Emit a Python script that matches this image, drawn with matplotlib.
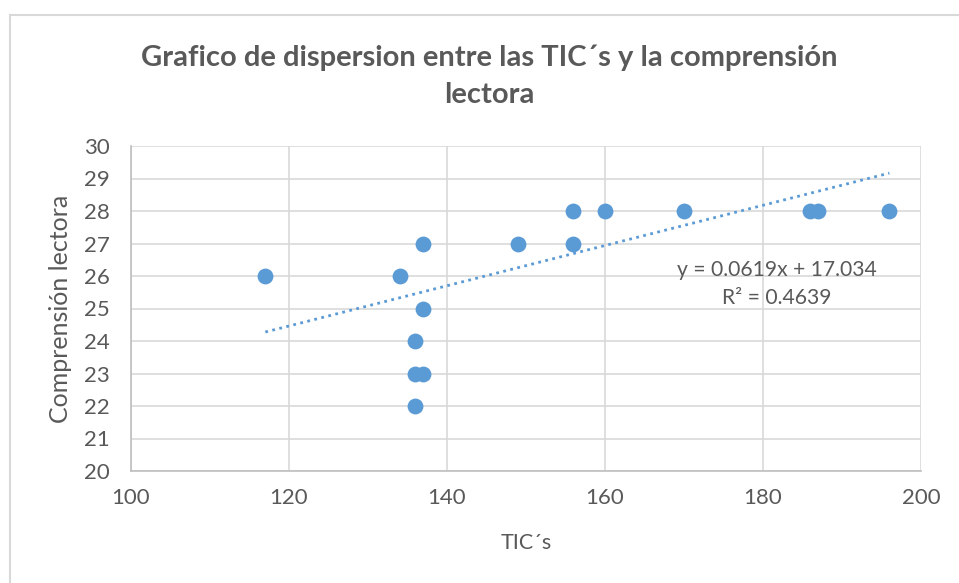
import matplotlib.pyplot as plt
from matplotlib.lines import Line2D

# datos
tics = [117, 134, 137, 137, 136, 136, 137, 136, 149, 156, 156, 160, 170, 186, 187, 196]
comprension = [26, 26, 27, 25, 24, 23, 23, 22, 27, 28, 27, 28, 28, 28, 28, 28]
pendiente = 0.0619
intercepto = 17.034
r2 = 0.4639
x_ticks = [100, 120, 140, 160, 180, 200]
y_ticks = list(range(20, 31))

azul = '#5B9BD5'
gris_txt = '#595959'
gris_grid = '#D9D9D9'

plt.rcParams['font.family'] = ['Lato', 'DejaVu Sans']

fig = plt.figure(figsize=(9.59, 5.83), dpi=100)
ax = fig.add_axes([131 / 959, 1 - 471 / 583, 790 / 959, 325 / 583])

# marco exterior del grafico (recortado a la derecha y abajo)
fig.add_artist(Line2D([10 / 959, 10 / 959], [0, 1 - 15 / 583], color='#D9D9D9', lw=1.5))
fig.add_artist(Line2D([10 / 959, 1], [1 - 15 / 583, 1 - 15 / 583], color='#D9D9D9', lw=1.5))

ax.scatter(tics, comprension, s=130, color=azul, zorder=3, linewidths=0)

# linea de tendencia
x0, x1 = min(tics), max(tics)
ax.plot([x0, x1], [pendiente * x0 + intercepto, pendiente * x1 + intercepto],
        linestyle=(0, (1, 1.6)), color=azul, lw=2, zorder=2)

ax.text(181.8, 26.18, f'y = {pendiente}x + {intercepto}', ha='center', va='center',
        fontsize=15.2, color=gris_txt)
ax.text(181.8, 25.32, f'R² = {r2}', ha='center', va='center',
        fontsize=15.2, color=gris_txt)

ax.set_xlim(100, 200)
ax.set_ylim(20, 30)
ax.set_xticks(x_ticks)
ax.set_yticks(y_ticks)
ax.grid(True, color=gris_grid, lw=1.2)
ax.set_axisbelow(True)
for side in ['top', 'right']:
    ax.spines[side].set_visible(False)
for side in ['left', 'bottom']:
    ax.spines[side].set_color('#BFBFBF')
    ax.spines[side].set_linewidth(1.2)
ax.tick_params(length=0, labelsize=16, labelcolor=gris_txt)
ax.tick_params(axis='x', pad=12)
ax.tick_params(axis='y', pad=15)

ax.set_xlabel('TIC´s', fontsize=15.5, color=gris_txt, labelpad=18)
ax.set_ylabel('Comprensión lectora', fontsize=18, color=gris_txt, labelpad=9)

fig.text(489 / 959, 1 - 76 / 583,
         'Grafico de dispersion entre las TIC´s y la comprensión\nlectora',
         ha='center', va='center', fontsize=21, fontweight='bold',
         color=gris_txt, linespacing=1.5)

fig.savefig('out.png', dpi=100)
